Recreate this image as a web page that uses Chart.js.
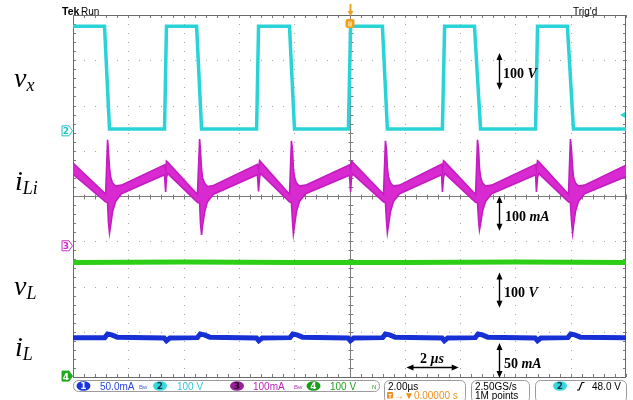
<!DOCTYPE html>
<html>
<head>
<meta charset="utf-8">
<style>
  html, body { margin: 0; padding: 0; background: #fff; }
  #wrap { width: 633px; height: 400px; }
</style>
</head>
<body>
<div id="wrap"><canvas id="scope" width="633" height="400"></canvas></div>
<script src="https://cdn.jsdelivr.net/npm/chart.js"></script>
<script>
// x in microseconds (2 us/div, trigger at 0), y in screen divisions (8 div tall)

// ch2 - switch node voltage vx
const vxT = [-10, -8.86, -8.68, -6.69, -6.62, -5.53, -5.35, -3.36, -3.29, -2.17, -1.99, -0.04,
             0.04, 1.19, 1.37, 3.36, 3.44, 4.52, 4.74, 6.73, 6.80, 7.88, 8.10, 10];
const vxV = [3.75, 3.75, 1.48, 1.48, 3.75, 3.75, 1.48, 1.48, 3.75, 3.75, 1.48, 1.48,
             3.75, 3.75, 1.48, 1.48, 3.75, 3.75, 1.48, 1.48, 3.75, 3.75, 1.48, 1.48];

// ch3 - input inductor current iLi, drawn as a noisy band (upper / lower edge)
const iLiT = [-10.00,
  -8.82, -8.75, -8.72, -8.68, -8.64, -8.57, -8.46, -8.25, -6.69, -6.65, -6.62, -6.58,
  -5.50, -5.42, -5.39, -5.35, -5.32, -5.24, -5.14, -4.92, -3.33, -3.29, -3.25, -3.22,
  -2.17, -2.10, -2.06, -2.03, -1.99, -1.92, -1.81, -1.59, 0.00, 0.04, 0.07, 0.11,
  1.23, 1.30, 1.34, 1.37, 1.41, 1.48, 1.59, 1.81, 3.33, 3.36, 3.40, 3.44,
  4.56, 4.63, 4.67, 4.70, 4.74, 4.81, 4.92, 5.14, 6.73, 6.76, 6.80, 6.84,
  7.92, 7.99, 8.03, 8.07, 8.10, 8.17, 8.28, 8.50, 10.00];
const iLiHi = [0.73,
  0.04, 1.24, 1.02, 0.62, 0.42, 0.29, 0.22, 0.24, 0.69, 0.58, 0.77, 0.75,
  0.03, 1.26, 1.00, 0.60, 0.41, 0.28, 0.21, 0.23, 0.70, 0.57, 0.78, 0.76,
  0.04, 1.22, 1.01, 0.61, 0.42, 0.29, 0.22, 0.24, 0.69, 0.58, 0.77, 0.75,
  0.04, 1.22, 1.01, 0.62, 0.42, 0.29, 0.22, 0.24, 0.70, 0.58, 0.78, 0.76,
  0.03, 1.24, 1.02, 0.62, 0.42, 0.29, 0.22, 0.24, 0.70, 0.58, 0.78, 0.76,
  0.04, 1.26, 1.02, 0.62, 0.42, 0.29, 0.22, 0.24, 0.68];
const iLiLo = [0.48,
  -0.13, -0.15, -0.57, -0.82, -0.66, -0.35, -0.12, 0.05, 0.47, 0.09, 0.40, 0.50,
  -0.14, -0.16, -0.60, -0.86, -0.68, -0.36, -0.13, 0.04, 0.47, 0.10, 0.41, 0.50,
  -0.13, -0.15, -0.58, -0.84, -0.66, -0.35, -0.12, 0.05, 0.46, 0.09, 0.40, 0.49,
  -0.13, -0.15, -0.57, -0.81, -0.65, -0.35, -0.12, 0.05, 0.47, 0.09, 0.40, 0.50,
  -0.14, -0.15, -0.55, -0.75, -0.62, -0.34, -0.12, 0.05, 0.47, 0.09, 0.40, 0.50,
  -0.13, -0.15, -0.57, -0.82, -0.66, -0.35, -0.12, 0.05, 0.43];

// ch4 - output voltage vL
const vLT = [-10, -6, -2, 2, 6, 10];
const vLV = [-1.47, -1.46, -1.47, -1.47, -1.46, -1.47];

// ch1 - output inductor current iL
const iLT = [-10, -8.85, -8.75, -8.60, -8.40, -6.70, -6.62, -6.50, -5.50, -5.40, -5.25, -5.05,
             -3.36, -3.28, -3.16, -2.15, -2.05, -1.90, -1.70, -0.05, 0.03, 0.15, 1.20, 1.30,
             1.45, 1.65, 3.35, 3.43, 3.55, 4.55, 4.65, 4.80, 5.00, 6.72, 6.80, 6.92,
             7.90, 8.00, 8.15, 8.35, 10];
const iLV = [-3.13, -3.13, -3.05, -3.07, -3.12, -3.14, -3.20, -3.14, -3.13, -3.05, -3.07, -3.12,
             -3.14, -3.20, -3.14, -3.13, -3.05, -3.07, -3.12, -3.14, -3.20, -3.14, -3.13, -3.05,
             -3.07, -3.12, -3.14, -3.20, -3.14, -3.13, -3.05, -3.07, -3.12, -3.14, -3.20, -3.14,
             -3.13, -3.05, -3.07, -3.12, -3.13];

function pts(ts, vs) {
  return ts.map((t, i) => ({x: t, y: vs[i]}));
}

function roundBox(ctx, x, y, w, h, r) {
  ctx.beginPath();
  ctx.moveTo(x + r, y);
  ctx.lineTo(x + w - r, y);
  ctx.arcTo(x + w, y, x + w, y + r, r);
  ctx.lineTo(x + w, y + h - r);
  ctx.arcTo(x + w, y + h, x + w - r, y + h, r);
  ctx.lineTo(x + r, y + h);
  ctx.arcTo(x, y + h, x, y + h - r, r);
  ctx.lineTo(x, y + r);
  ctx.arcTo(x, y, x + r, y, r);
  ctx.closePath();
}

function vArrow(ctx, px, y1, y2) {
  ctx.beginPath();
  ctx.moveTo(px, y1 + 3);
  ctx.lineTo(px, y2 - 3);
  ctx.stroke();
  ctx.beginPath();
  ctx.moveTo(px, y1); ctx.lineTo(px - 3, y1 + 7); ctx.lineTo(px + 3, y1 + 7); ctx.closePath();
  ctx.moveTo(px, y2); ctx.lineTo(px - 3, y2 - 7); ctx.lineTo(px + 3, y2 - 7); ctx.closePath();
  ctx.fill();
}

function hArrow(ctx, x1, x2, py) {
  ctx.beginPath();
  ctx.moveTo(x1 + 3, py);
  ctx.lineTo(x2 - 3, py);
  ctx.stroke();
  ctx.beginPath();
  ctx.moveTo(x1, py); ctx.lineTo(x1 + 7, py - 3); ctx.lineTo(x1 + 7, py + 3); ctx.closePath();
  ctx.moveTo(x2, py); ctx.lineTo(x2 - 7, py - 3); ctx.lineTo(x2 - 7, py + 3); ctx.closePath();
  ctx.fill();
}

// "100 V" style label: number upright bold, unit bold italic
function unitLabel(ctx, num, unit, x, base) {
  ctx.font = 'bold 14px "Liberation Serif"';
  ctx.fillText(num, x, base);
  const w = ctx.measureText(num).width;
  ctx.font = 'italic bold 14px "Liberation Serif"';
  ctx.fillText(unit, x + w, base);
}

function sigLabel(ctx, main, sub, x, base) {
  ctx.font = 'italic 28px "Liberation Serif"';
  ctx.fillText(main, x, base);
  const w = ctx.measureText(main).width;
  ctx.font = 'italic 18px "Liberation Serif"';
  ctx.fillText(sub, x + w, base + 4);
}

function chMarker(ctx, label, cy, color, filled) {
  ctx.beginPath();
  ctx.moveTo(62, cy - 5); ctx.lineTo(69, cy - 5); ctx.lineTo(72.5, cy);
  ctx.lineTo(69, cy + 5); ctx.lineTo(62, cy + 5); ctx.closePath();
  ctx.fillStyle = filled ? color : '#ffffff';
  ctx.fill();
  ctx.strokeStyle = color;
  ctx.lineWidth = 1;
  ctx.stroke();
  ctx.fillStyle = filled ? '#ffffff' : color;
  ctx.font = 'bold 9px "DejaVu Sans"';
  ctx.textAlign = 'center';
  ctx.fillText(label, 66, cy + 3.5);
  ctx.textAlign = 'left';
}

function badge(ctx, label, cx, cy, fill, ink) {
  ctx.beginPath();
  ctx.ellipse(cx, cy, 7, 4.8, 0, 0, Math.PI * 2);
  ctx.fillStyle = fill;
  ctx.fill();
  ctx.fillStyle = ink;
  ctx.font = 'bold 9px "DejaVu Sans"';
  ctx.textAlign = 'center';
  ctx.fillText(label, cx, cy + 3.3);
  ctx.textAlign = 'left';
  ctx.font = '10px "Liberation Sans"';
}

const scopeDecor = {
  id: 'scopeDecor',
  beforeDatasetsDraw(chart) {
    const {ctx, chartArea: a, scales: {x, y}} = chart;
    ctx.save();
    // dotted graticule, dots every 1/5 div
    ctx.fillStyle = '#a4a4a4';
    for (let t = -8; t <= 8; t += 2) {
      if (t === 0) continue;
      const px = Math.round(x.getPixelForValue(t));
      for (let i = -20; i <= 20; i++) ctx.fillRect(px, Math.round(y.getPixelForValue(i / 5)), 1, 1);
    }
    for (let d = -3; d <= 3; d++) {
      if (d === 0) continue;
      const py = Math.round(y.getPixelForValue(d));
      for (let i = -25; i <= 25; i++) ctx.fillRect(Math.round(x.getPixelForValue(i * 0.4)), py, 1, 1);
    }
    // centre cross with minor ticks, and ticks along the frame
    ctx.strokeStyle = '#7c7c7c';
    ctx.lineWidth = 1;
    const cx = Math.round(x.getPixelForValue(0)) + 0.5;
    const cy = Math.round(y.getPixelForValue(0)) + 0.5;
    ctx.beginPath();
    ctx.moveTo(a.left, cy); ctx.lineTo(a.right, cy);
    ctx.moveTo(cx, a.top); ctx.lineTo(cx, a.bottom);
    for (let i = -25; i <= 25; i++) {
      const px = Math.round(x.getPixelForValue(i * 0.4)) + 0.5;
      ctx.moveTo(px, cy - 2); ctx.lineTo(px, cy + 3);
      ctx.moveTo(px, a.top); ctx.lineTo(px, a.top + 3);
      ctx.moveTo(px, a.bottom); ctx.lineTo(px, a.bottom - 3);
    }
    for (let i = -20; i <= 20; i++) {
      const py = Math.round(y.getPixelForValue(i / 5)) + 0.5;
      ctx.moveTo(cx - 2, py); ctx.lineTo(cx + 3, py);
      ctx.moveTo(a.left, py); ctx.lineTo(a.left + 3, py);
      ctx.moveTo(a.right, py); ctx.lineTo(a.right - 3, py);
    }
    ctx.stroke();
    // frame
    ctx.strokeStyle = '#6a6a6a';
    ctx.strokeRect(Math.round(a.left) + 0.5, Math.round(a.top) + 0.5,
                   Math.round(a.right - a.left) - 1, Math.round(a.bottom - a.top));
    ctx.restore();
  },
  afterDatasetsDraw(chart) {
    const {ctx, scales: {x, y}} = chart;
    ctx.save();
    ctx.fillStyle = '#000';
    ctx.strokeStyle = '#000';
    ctx.lineWidth = 1.4;
    const ax = Math.round(x.getPixelForValue(5.42)) + 0.5;
    vArrow(ctx, ax, y.getPixelForValue(3.16), y.getPixelForValue(2.35));
    vArrow(ctx, ax, y.getPixelForValue(0.0), y.getPixelForValue(-0.77));
    vArrow(ctx, ax, y.getPixelForValue(-1.69), y.getPixelForValue(-2.47));
    vArrow(ctx, ax, y.getPixelForValue(-3.25), y.getPixelForValue(-4.02));
    hArrow(ctx, x.getPixelForValue(2.06), x.getPixelForValue(3.95), Math.round(y.getPixelForValue(-3.78)) + 0.5);
    const lx = x.getPixelForValue(5.55);
    unitLabel(ctx, '100 ', 'V', lx, y.getPixelForValue(2.6));
    unitLabel(ctx, '100 ', 'mA', lx + 2, y.getPixelForValue(-0.55));
    unitLabel(ctx, '100 ', 'V', lx + 1, y.getPixelForValue(-2.23));
    unitLabel(ctx, '50 ', 'mA', lx + 1, y.getPixelForValue(-3.80));
    unitLabel(ctx, '2 ', '\u00b5s', x.getPixelForValue(2.55), y.getPixelForValue(-3.69));

    // trigger position marker (orange) and ch2 trigger level marker
    const tx = Math.round(x.getPixelForValue(0)) + 0.5;
    ctx.strokeStyle = '#f0a020';
    ctx.fillStyle = '#f0a020';
    ctx.lineWidth = 2;
    ctx.beginPath(); ctx.moveTo(tx, 4); ctx.lineTo(tx, 12); ctx.stroke();
    ctx.beginPath(); ctx.moveTo(tx - 3, 11); ctx.lineTo(tx + 3, 11); ctx.lineTo(tx, 16); ctx.closePath(); ctx.fill();
    roundBox(ctx, tx - 5, 19, 9, 9, 2); ctx.fill();
    ctx.fillStyle = '#fbd27a';
    ctx.fillRect(tx - 2.5, 21.5, 4, 5);
    const ry = y.getPixelForValue(1.79);
    ctx.fillStyle = '#30d6d6';
    ctx.beginPath(); ctx.moveTo(620, ry); ctx.lineTo(625, ry - 3); ctx.lineTo(625, ry + 3); ctx.closePath(); ctx.fill();
    ctx.restore();
  },
  afterDraw(chart) {
    const {ctx, scales: {y}} = chart;
    ctx.save();
    ctx.textBaseline = 'alphabetic';
    // ground markers
    chMarker(ctx, '2', y.getPixelForValue(1.44), '#22c4cc', false);
    chMarker(ctx, '3', y.getPixelForValue(-1.1), '#c830c8', false);
    chMarker(ctx, '4', y.getPixelForValue(-3.98), '#22a81e', true);

    // signal names
    ctx.fillStyle = '#000';
    sigLabel(ctx, 'v', 'x', 14, 87);
    sigLabel(ctx, 'i', 'Li', 15, 190);
    sigLabel(ctx, 'v', 'L', 14, 295);
    sigLabel(ctx, 'i', 'L', 15, 356);

    // header
    ctx.font = 'bold 10.5px "Liberation Sans"';
    ctx.fillText('Tek', 62, 15);
    ctx.font = '10px "Liberation Sans"';
    ctx.fillText('Run', 81, 15);
    ctx.fillText("Trig'd", 573, 15);

    // status bar
    ctx.strokeStyle = '#9c9c9c';
    ctx.lineWidth = 1;
    roundBox(ctx, 73.5, 380.5, 306, 11, 5); ctx.stroke();
    roundBox(ctx, 384.5, 380.5, 81, 22, 5); ctx.stroke();
    roundBox(ctx, 471.5, 380.5, 58, 22, 5); ctx.stroke();
    roundBox(ctx, 535.5, 380.5, 91, 22, 5); ctx.stroke();

    badge(ctx, '1', 83.5, 386, '#1736e0', '#ffffff');
    ctx.fillStyle = '#2a44e0';
    ctx.fillText('50.0mA', 100, 390);
    badge(ctx, '2', 160, 386, '#38d8e2', '#103848');
    ctx.fillStyle = '#34c8d8';
    ctx.fillText('100 V', 177, 390);
    badge(ctx, '3', 237, 386, '#9a1e9a', '#2a002a');
    ctx.fillStyle = '#b828b8';
    ctx.fillText('100mA', 253, 390);
    badge(ctx, '4', 313.5, 386, '#1a9a1a', '#ffffff');
    ctx.fillStyle = '#22a022';
    ctx.fillText('100 V', 330, 390);
    ctx.font = '6px "Liberation Sans"';
    ctx.fillStyle = '#4a64c8';
    ctx.fillText('Bw', 139, 389);
    ctx.fillStyle = '#b040b0';
    ctx.fillText('Bw', 294, 389);
    ctx.fillStyle = '#22a022';
    ctx.fillText('N', 372, 389);

    ctx.font = '10px "Liberation Sans"';
    ctx.fillStyle = '#000';
    ctx.fillText('2.00\u00b5s', 388, 390);
    ctx.fillStyle = '#f09020';
    roundBox(ctx, 387, 392, 6, 6.5, 1); ctx.fill();
    ctx.fillText('\u2192\u25bc0.00000 s', 394, 399);
    ctx.fillStyle = '#fff';
    ctx.font = 'bold 6px "Liberation Sans"';
    ctx.fillText('T', 388.3, 397.5);

    ctx.font = '10px "Liberation Sans"';
    ctx.fillStyle = '#000';
    ctx.fillText('2.50GS/s', 475, 390);
    ctx.fillText('1M points', 475, 399);

    badge(ctx, '2', 560, 386, '#38d8e2', '#103848');
    ctx.strokeStyle = '#000';
    ctx.lineWidth = 1.2;
    ctx.beginPath();
    ctx.moveTo(577, 390); ctx.lineTo(579, 390); ctx.lineTo(582, 382.5); ctx.lineTo(584.5, 382.5);
    ctx.stroke();
    ctx.fillStyle = '#000';
    ctx.fillText('48.0 V', 592, 390);
    ctx.restore();
  }
};

new Chart(document.getElementById('scope'), {
  type: 'line',
  data: {
    datasets: [
      {label: 'vx', data: pts(vxT, vxV), borderColor: '#2ad4d6', borderWidth: 3.5, borderJoinStyle: 'miter'},
      {label: 'iLi high', data: pts(iLiT, iLiHi), borderColor: '#c41cc0', borderWidth: 1.6, fill: false},
      {label: 'iLi low', data: pts(iLiT, iLiLo), borderColor: '#c41cc0', borderWidth: 1.6,
       fill: '-1', backgroundColor: '#d92ad2'},
      {label: 'vL', data: pts(vLT, vLV), borderColor: '#2ccf16', borderWidth: 5},
      {label: 'iL', data: pts(iLT, iLV), borderColor: '#1730d6', borderWidth: 5}
    ]
  },
  options: {
    responsive: false,
    animation: false,
    devicePixelRatio: 1,
    layout: {padding: {left: 73, right: 7, top: 15, bottom: 23}},
    elements: {point: {radius: 0}, line: {tension: 0}},
    plugins: {legend: {display: false}, tooltip: {enabled: false}},
    scales: {
      x: {type: 'linear', min: -10, max: 10, display: false},
      y: {type: 'linear', min: -4, max: 4, display: false}
    }
  },
  plugins: [scopeDecor]
});
</script>
</body>
</html>
